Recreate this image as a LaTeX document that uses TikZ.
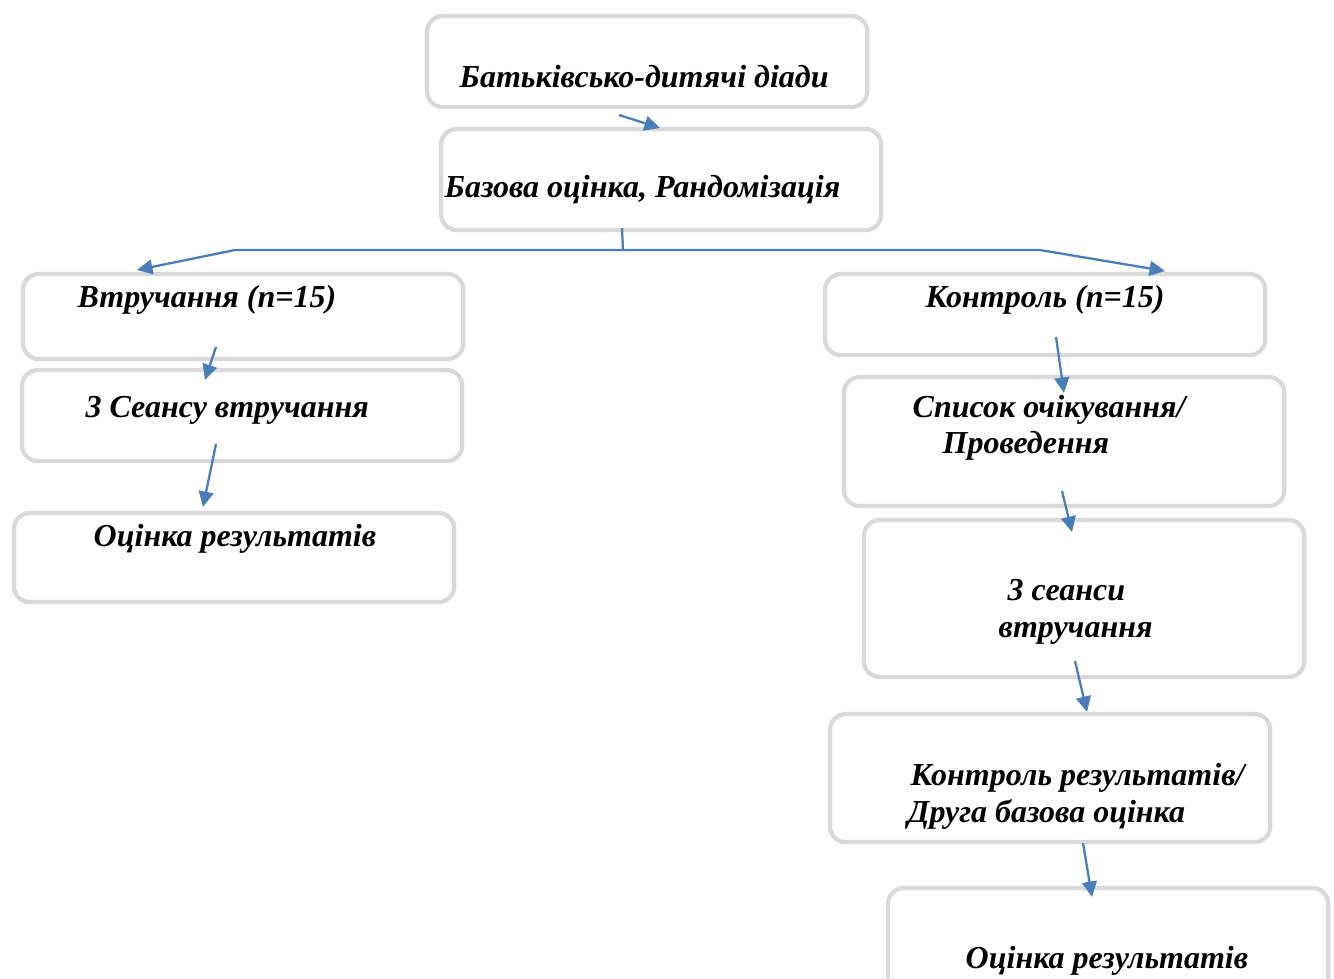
\documentclass[tikz,border=0pt]{standalone}
\usepackage{fontspec}
\setmainfont{Liberation Serif}
\usetikzlibrary{arrows.meta}
\definecolor{boxgray}{HTML}{D9D9D9}
\definecolor{arrowblue}{HTML}{4A7EBB}

\begin{document}
\begin{tikzpicture}[x=0.01cm, y=-0.01cm,
    box/.style={draw=boxgray, line width=1.2pt, rounded corners=4.5pt,
      anchor=north west, inner sep=0pt, outer sep=0pt, minimum width=4.4cm},
    txt/.style={anchor=base west, inner sep=0pt,
      font=\fontsize{9.1}{11}\selectfont\bfseries\itshape},
    link/.style={arrowblue, line width=0.65pt, -{Triangle[length=4.4pt,width=4.2pt]}}]
  \useasboundingbox (0,0) rectangle (1334,978);

  % Boxes
  \node[box, minimum height=0.91cm] (dyads) at (427,16) {};
  \node[box, minimum height=1.01cm] (base) at (441,129) {};
  \node[box, minimum height=0.85cm] (inter) at (23,274) {};
  \node[box, minimum height=0.91cm] (sess) at (22,370) {};
  \node[box, minimum height=0.89cm] (resl) at (14,513) {};
  \node[box, minimum height=0.81cm] (ctrl) at (825,274) {};
  \node[box, minimum height=1.29cm] (wait) at (844,377) {};
  \node[box, minimum height=1.57cm] (sessr) at (864,520) {};
  \node[box, minimum height=1.28cm] (check) at (830,714) {};
  \node[box, minimum height=1.20cm] (resr) at (888,888) {};

  % Texts
  \node[txt] (t1) at (459,87) {Батьківсько-дитячі діади};
  \node[txt] (t2) at (444,197) {Базова оцінка, Рандомізація};
  \node[txt] (t3) at (77,307) {Втручання (n=15)};
  \node[txt] (t4) at (85,417) {3 Сеансу втручання};
  \node[txt] (t5) at (93,546) {Оцінка результатів};
  \node[txt] (t6) at (925,307) {Контроль (n=15)};
  \node[txt] (t7) at (912,417) {Список очікування/};
  \node[txt] (t8) at (942,453) {Проведення};
  \node[txt] (t9) at (1007,600) {3 сеанси};
  \node[txt] (t10) at (998,637) {втручання};
  \node[txt] (t11) at (910,785) {Контроль результатів/};
  \node[txt] (t12) at (907,822) {Друга базова оцінка};
  \node[txt] (t13) at (965,968) {Оцінка результатів};

  % Arrows
  \coordinate (a1) at (619,115);  \coordinate (a2) at (660,128);
  \coordinate (stem) at (622,228); \coordinate (split) at (623,250);
  \coordinate (sl) at (235,250);  \coordinate (sr) at (1040,250);
  \coordinate (tl) at (137,270);  \coordinate (tr) at (1165,271);
  \coordinate (l1) at (216,347);  \coordinate (l2) at (205,380);
  \coordinate (l3) at (216,444);  \coordinate (l4) at (203,507);
  \coordinate (r1) at (1056,337); \coordinate (r2) at (1064,393);
  \coordinate (r3) at (1062,491); \coordinate (r4) at (1072,532);
  \coordinate (r5) at (1075,661); \coordinate (r6) at (1087,712);
  \coordinate (r7) at (1083,843); \coordinate (r8) at (1092,897);

  \draw[link] (a1) -- (a2);
  \draw[arrowblue, line width=0.65pt] (stem) -- (split);
  \draw[link] (split) -- (sl) -- (tl);
  \draw[link] (split) -- (sr) -- (tr);
  \draw[link] (l1) -- (l2);
  \draw[link] (l3) -- (l4);
  \draw[link] (r1) -- (r2);
  \draw[link] (r3) -- (r4);
  \draw[link] (r5) -- (r6);
  \draw[link] (r7) -- (r8);
\end{tikzpicture}
\end{document}
